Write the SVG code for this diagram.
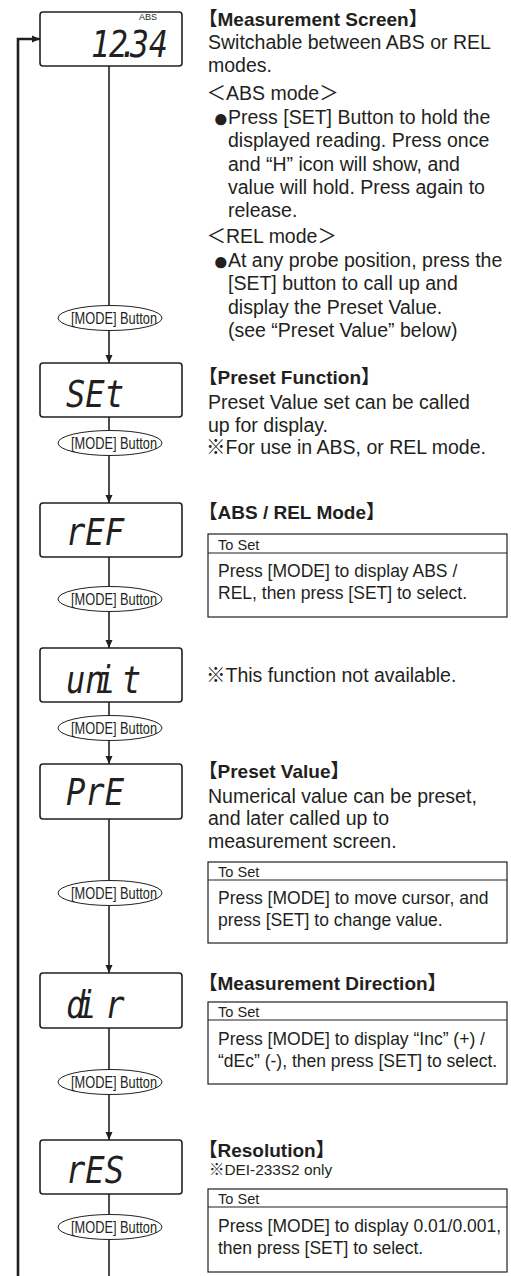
<svg xmlns="http://www.w3.org/2000/svg" width="511" height="1276" viewBox="0 0 511 1276">
<defs>
<style>
.box{fill:#fff;stroke:#231f20;stroke-width:1.6}
.btn{fill:#fff;stroke:#231f20;stroke-width:1}
.btxt{font-family:"Liberation Sans",Arial,sans-serif;font-size:16px;fill:#231f20}
.lcd{font-family:"DejaVu Sans Mono",monospace;font-style:oblique;font-size:37px;fill:#231f20}
.abs{font-family:"Liberation Sans",Arial,sans-serif;font-size:9px;fill:#231f20}
.t{font-family:"Liberation Sans","Noto Sans CJK JP",sans-serif;font-size:19.5px;fill:#231f20}
.h{font-weight:bold;font-size:19px}
.s{font-size:17.5px}
.ts{font-size:14.6px}
.note{font-size:15.4px}
.bul{font-size:26px}
.line{stroke:#231f20;stroke-width:1.6;fill:none}
.loop{stroke-width:2.6}
.tbox{fill:none;stroke:#231f20;stroke-width:1.2}
</style>
<marker id="ah" markerWidth="8" markerHeight="8" refX="8" refY="4" orient="auto" markerUnits="userSpaceOnUse">
<path d="M0,0.5 L8,4 L0,7.5 z" fill="#231f20"/>
</marker>
</defs>
<rect width="511" height="1276" fill="#fff"/>

<g id="connectors">
<path class="line loop" d="M18,1276 V39 H40" marker-end="url(#ah)"/>
<line class="line" x1="109" y1="66" x2="109" y2="363" marker-end="url(#ah)"/>
<line class="line" x1="109" y1="417" x2="109" y2="503" marker-end="url(#ah)"/>
<line class="line" x1="109" y1="557" x2="109" y2="648" marker-end="url(#ah)"/>
<line class="line" x1="109" y1="702" x2="109" y2="764" marker-end="url(#ah)"/>
<line class="line" x1="109" y1="819" x2="109" y2="973" marker-end="url(#ah)"/>
<line class="line" x1="109" y1="1028" x2="109" y2="1140" marker-end="url(#ah)"/>
<line class="line" x1="109" y1="1194" x2="109" y2="1276"/>
</g>

<g id="n-measure">
<rect class="box" x="40" y="12" width="142" height="54" rx="3"/>
<text class="abs" x="139" y="20">ABS</text>
<text class="lcd" transform="translate(91,57) scale(0.85,1)" x="0 21.2 32.9 45.9 68.2">12.34</text>
</g>
<g id="n-set">
<rect class="box" x="40" y="363" width="142" height="54" rx="3"/>
<text class="lcd" transform="translate(66,407) scale(0.87,1)">SEt</text>
</g>
<g id="n-ref">
<rect class="box" x="40" y="503" width="142" height="54" rx="3"/>
<text class="lcd" transform="translate(66,545) scale(0.87,1)">rEF</text>
</g>
<g id="n-unit">
<rect class="box" x="40" y="648" width="142" height="54" rx="3"/>
<text class="lcd" transform="translate(66,693) scale(0.87,1)" x="0 22 34.5 64">unit</text>
</g>
<g id="n-pre">
<rect class="box" x="40" y="764" width="142" height="55" rx="3"/>
<text class="lcd" transform="translate(66,805) scale(0.87,1)">PrE</text>
</g>
<g id="n-dir">
<rect class="box" x="40" y="973" width="142" height="55" rx="3"/>
<text class="lcd" transform="translate(66,1018) scale(0.87,1)" x="0 12.6 45">dir</text>
</g>
<g id="n-res">
<rect class="box" x="40" y="1140" width="142" height="54" rx="3"/>
<text class="lcd" transform="translate(66,1183) scale(0.87,1)">rES</text>
</g>

<g id="btn-1"><ellipse class="btn" cx="110" cy="318" rx="52" ry="12.5"/><text class="btxt" x="71" y="323.5" textLength="86" lengthAdjust="spacingAndGlyphs">[MODE] Button</text></g>
<g id="btn-2"><ellipse class="btn" cx="110" cy="443" rx="52" ry="12.5"/><text class="btxt" x="71" y="448.5" textLength="86" lengthAdjust="spacingAndGlyphs">[MODE] Button</text></g>
<g id="btn-3"><ellipse class="btn" cx="110" cy="599" rx="52" ry="12.5"/><text class="btxt" x="71" y="604.5" textLength="86" lengthAdjust="spacingAndGlyphs">[MODE] Button</text></g>
<g id="btn-4"><ellipse class="btn" cx="110" cy="728" rx="52" ry="12.5"/><text class="btxt" x="71" y="733.5" textLength="86" lengthAdjust="spacingAndGlyphs">[MODE] Button</text></g>
<g id="btn-5"><ellipse class="btn" cx="110" cy="893" rx="52" ry="12.5"/><text class="btxt" x="71" y="898.5" textLength="86" lengthAdjust="spacingAndGlyphs">[MODE] Button</text></g>
<g id="btn-6"><ellipse class="btn" cx="110" cy="1082" rx="52" ry="12.5"/><text class="btxt" x="71" y="1087.5" textLength="86" lengthAdjust="spacingAndGlyphs">[MODE] Button</text></g>
<g id="btn-7"><ellipse class="btn" cx="110" cy="1227" rx="52" ry="12.5"/><text class="btxt" x="71" y="1232.5" textLength="86" lengthAdjust="spacingAndGlyphs">[MODE] Button</text></g>

<g id="d-measure">
<text class="t h" x="198.5" y="26">【Measurement Screen】</text>
<text class="t" x="208" y="49">Switchable between ABS or REL</text>
<text class="t" x="208" y="72">modes.</text>
<text class="t" x="206.5" y="100">＜ABS mode＞</text>
<text class="t" y="124"><tspan class="bul" x="213" dy="2.5">●</tspan><tspan x="228" dy="-2.5">Press [SET] Button to hold the</tspan></text>
<text class="t" x="228" y="147">displayed reading. Press once</text>
<text class="t" x="228" y="171">and “H” icon will show, and</text>
<text class="t" x="228" y="194">value will hold. Press again to</text>
<text class="t" x="228" y="217">release.</text>
<text class="t" x="206.5" y="243">＜REL mode＞</text>
<text class="t" y="267"><tspan class="bul" x="213" dy="2.5">●</tspan><tspan x="228" dy="-2.5">At any probe position, press the</tspan></text>
<text class="t" x="228" y="290">[SET] button to call up and</text>
<text class="t" x="228" y="314">display the Preset Value.</text>
<text class="t" x="228" y="337">(see “Preset Value” below)</text>
</g>

<g id="d-preset-function">
<text class="t h" x="198.5" y="384">【Preset Function】</text>
<text class="t" x="208" y="409">Preset Value set can be called</text>
<text class="t" x="208" y="432">up for display.</text>
<text class="t" x="206" y="454">※For use in ABS, or REL mode.</text>
</g>

<g id="d-absrel">
<text class="t h" x="198.5" y="519">【ABS / REL Mode】</text>
<rect class="tbox" x="208" y="534" width="299" height="83"/>
<line class="tbox" x1="208" y1="553" x2="507" y2="553"/>
<text class="t ts" x="218" y="550">To Set</text>
<text class="t s" x="218" y="577">Press [MODE] to display ABS /</text>
<text class="t s" x="218" y="599">REL, then press [SET] to select.</text>
</g>

<g id="d-unit">
<text class="t" x="206" y="682">※This function not available.</text>
</g>

<g id="d-preset-value">
<text class="t h" x="198.5" y="778">【Preset Value】</text>
<text class="t" x="208" y="803">Numerical value can be preset,</text>
<text class="t" x="208" y="825">and later called up to</text>
<text class="t" x="208" y="848">measurement screen.</text>
<rect class="tbox" x="208" y="862" width="299" height="81"/>
<line class="tbox" x1="208" y1="880" x2="507" y2="880"/>
<text class="t ts" x="218" y="877">To Set</text>
<text class="t s" x="218" y="904">Press [MODE] to move cursor, and</text>
<text class="t s" x="218" y="926">press [SET] to change value.</text>
</g>

<g id="d-direction">
<text class="t h" x="198.5" y="990">【Measurement Direction】</text>
<rect class="tbox" x="208" y="1002" width="299" height="82"/>
<line class="tbox" x1="208" y1="1020" x2="507" y2="1020"/>
<text class="t ts" x="218" y="1017">To Set</text>
<text class="t s" x="218" y="1045">Press [MODE] to display “Inc” (+) /</text>
<text class="t s" x="218" y="1067">“dEc” (-), then press [SET] to select.</text>
</g>

<g id="d-resolution">
<text class="t h" x="198.5" y="1157">【Resolution】</text>
<text class="t note" x="209" y="1175">※DEI-233S2 only</text>
<rect class="tbox" x="208" y="1189" width="299" height="83"/>
<line class="tbox" x1="208" y1="1207" x2="507" y2="1207"/>
<text class="t ts" x="218" y="1204">To Set</text>
<text class="t s" x="218" y="1232">Press [MODE] to display 0.01/0.001,</text>
<text class="t s" x="218" y="1254">then press [SET] to select.</text>
</g>
</svg>
